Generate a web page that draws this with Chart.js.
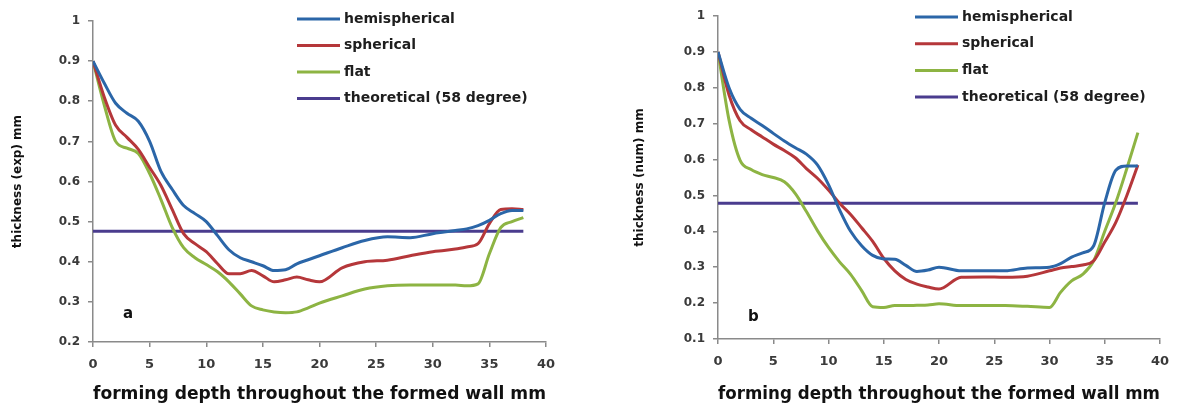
<!DOCTYPE html>
<html>
<head>
<meta charset="utf-8">
<script src="https://cdn.jsdelivr.net/npm/chart.js@4.4.1/dist/chart.umd.min.js"></script>
<style>
  html, body { margin: 0; padding: 0; background: #fff; }
  .panel { position: absolute; top: 0; height: 405px; }
  #wrapA { left: 0; width: 597px; }
  #wrapB { left: 620px; width: 574px; }
</style>
</head>
<body>
<div class="panel" id="wrapA"><canvas id="chartA"></canvas></div>
<div class="panel" id="wrapB"><canvas id="chartB"></canvas></div>
<script>
// series names
const seriesNames = ["hemispherical", "spherical", "flat", "theoretical (58 degree)"];

// forming depth (mm), shared by both panels
const depth = [0, 1, 2, 3, 4, 5, 6, 7, 8, 9, 10, 11, 12, 13, 14, 15, 16, 17, 18, 19, 20,
               22, 24, 26, 28, 30, 31, 32, 33, 34, 35, 36, 37, 38];

// panel a: experimental thickness (mm)
const hemiA = [0.9, 0.845, 0.795, 0.77, 0.75, 0.70, 0.625, 0.58, 0.54, 0.52, 0.50, 0.465, 0.43, 0.41, 0.40, 0.39, 0.378, 0.38, 0.395, 0.405, 0.415,
               0.435, 0.453, 0.462, 0.46, 0.47, 0.474, 0.478, 0.482, 0.49, 0.503, 0.52, 0.528, 0.528];
const sphA  = [0.9, 0.81, 0.74, 0.71, 0.68, 0.635, 0.59, 0.53, 0.47, 0.445, 0.425, 0.395, 0.37, 0.37, 0.378, 0.365, 0.35, 0.355, 0.362, 0.355, 0.35,
               0.385, 0.40, 0.404, 0.415, 0.425, 0.428, 0.432, 0.437, 0.445, 0.495, 0.53, 0.532, 0.53];
const flatA = [0.9, 0.79, 0.70, 0.683, 0.67, 0.62, 0.555, 0.485, 0.435, 0.41, 0.393, 0.375, 0.35, 0.32, 0.29, 0.28, 0.275, 0.273, 0.275, 0.285, 0.297,
               0.315, 0.332, 0.34, 0.342, 0.342, 0.342, 0.342, 0.34, 0.345, 0.42, 0.485, 0.50, 0.51];

// panel b: numerical thickness (mm)
const hemiB = [0.9, 0.80, 0.74, 0.715, 0.695, 0.673, 0.652, 0.633, 0.615, 0.585, 0.53, 0.46, 0.40, 0.36, 0.333, 0.323, 0.322, 0.305, 0.288, 0.292, 0.30,
               0.29, 0.29, 0.29, 0.298, 0.30, 0.31, 0.328, 0.34, 0.36, 0.48, 0.57, 0.582, 0.582];
const sphB  = [0.9, 0.78, 0.708, 0.683, 0.663, 0.643, 0.625, 0.605, 0.575, 0.548, 0.515, 0.478, 0.447, 0.41, 0.372, 0.325, 0.29, 0.266, 0.253, 0.245, 0.239,
               0.272, 0.273, 0.272, 0.275, 0.29, 0.298, 0.302, 0.306, 0.318, 0.37, 0.425, 0.50, 0.585];
const flatB = [0.9, 0.71, 0.598, 0.572, 0.558, 0.55, 0.538, 0.505, 0.455, 0.402, 0.355, 0.315, 0.28, 0.235, 0.19, 0.188, 0.193, 0.193, 0.194, 0.195, 0.198,
               0.193, 0.193, 0.193, 0.191, 0.188, 0.23, 0.262, 0.28, 0.318, 0.40, 0.48, 0.575, 0.675];

// theoretical line (58 degree)
const theoryDepth = [0, 38];
const theoryA = [0.476, 0.476];
const theoryB = [0.478, 0.478];

// tick labels
const xTicks = [0, 5, 10, 15, 20, 25, 30, 35, 40];
const yTicksA = [0.2, 0.3, 0.4, 0.5, 0.6, 0.7, 0.8, 0.9, 1];
const yTicksB = [0.1, 0.2, 0.3, 0.4, 0.5, 0.6, 0.7, 0.8, 0.9, 1];

const colors = ["#2b66a8", "#b5373a", "#8db443", "#4a3c8e"];
const FONT = '"DejaVu Sans", Verdana, sans-serif';
const AXIS = "#8a8a8a";

const pairs = (xs, ys) => xs.map((x, i) => ({ x: x, y: ys[i] }));

// draws the legend and the panel letter inside the plot
const overlayPlugin = {
  id: "overlay",
  afterDatasetsDraw(chart, args, opts) {
    const ctx = chart.ctx;
    ctx.save();
    ctx.font = "bold 14px " + FONT;
    ctx.textBaseline = "middle";
    ctx.textAlign = "left";
    chart.data.datasets.forEach((ds, i) => {
      const y = opts.legendY + i * opts.legendGap;
      ctx.strokeStyle = ds.borderColor;
      ctx.lineWidth = 3;
      ctx.beginPath();
      ctx.moveTo(opts.legendX, y);
      ctx.lineTo(opts.legendX + 43, y);
      ctx.stroke();
      ctx.fillStyle = "#1e1e1e";
      ctx.fillText(ds.label, opts.legendX + 47, y);
    });
    const sx = chart.scales.x, sy = chart.scales.y;
    ctx.font = "bold 15px " + FONT;
    ctx.textAlign = "center";
    ctx.fillStyle = "#111";
    ctx.fillText(opts.panel.text, sx.getPixelForValue(opts.panel.x), sy.getPixelForValue(opts.panel.y));
    ctx.restore();
  }
};

function makeChart(id, cfg) {
  const series = [cfg.hemi, cfg.sph, cfg.flat];
  const datasets = series.map((vals, i) => ({
    label: seriesNames[i],
    data: pairs(depth, vals),
    borderColor: colors[i],
    borderWidth: 3,
    pointRadius: 0,
    cubicInterpolationMode: "monotone",
    fill: false
  }));
  datasets.push({
    label: seriesNames[3],
    data: pairs(theoryDepth, cfg.theory),
    borderColor: colors[3],
    borderWidth: 3,
    pointRadius: 0,
    fill: false
  });

  return new Chart(document.getElementById(id), {
    type: "line",
    data: { datasets: datasets },
    options: {
      responsive: true,
      maintainAspectRatio: false,
      animation: false,
      layout: { padding: { top: cfg.padTop, right: cfg.padRight, left: 0, bottom: 0 } },
      plugins: {
        legend: { display: false },
        tooltip: { enabled: false },
        overlay: cfg.overlay
      },
      scales: {
        x: {
          type: "linear",
          min: 0,
          max: 40,
          afterBuildTicks: s => { s.ticks = xTicks.map(v => ({ value: v })); },
          afterFit: s => { s.height = cfg.xHeight; },
          ticks: { color: "#3a3a3a", padding: 10, font: { family: FONT, size: 13, weight: "bold" } },
          grid: { drawOnChartArea: false, drawTicks: true, tickLength: 5, color: AXIS, lineWidth: 1.5 },
          border: { display: true, color: AXIS, width: 1.5 },
          title: {
            display: true,
            text: "forming depth throughout the formed wall mm",
            color: "#111",
            padding: { top: 2, bottom: 0 },
            font: { family: FONT, size: 18, weight: "bold" }
          }
        },
        y: {
          type: "linear",
          min: cfg.yTicks[0],
          max: 1,
          afterBuildTicks: s => { s.ticks = cfg.yTicks.map(v => ({ value: v })); },
          afterFit: s => { s.width = cfg.yWidth; },
          ticks: {
            color: "#3a3a3a",
            padding: 8,
            font: { family: FONT, size: 12, weight: "bold" },
            callback: v => String(+v.toFixed(1))
          },
          grid: { drawOnChartArea: false, drawTicks: true, tickLength: 5, color: AXIS, lineWidth: 1.5 },
          border: { display: true, color: AXIS, width: 1.5 },
          title: {
            display: true,
            text: cfg.yTitle,
            color: "#111",
            padding: { top: cfg.yTitlePad, bottom: 0 },
            font: { family: FONT, size: 12, weight: "bold" }
          }
        }
      }
    },
    plugins: [overlayPlugin]
  });
}

makeChart("chartA", {
  hemi: hemiA, sph: sphA, flat: flatA, theory: theoryA,
  yTicks: yTicksA,
  yTitle: "thickness (exp) mm",
  padTop: 21, padRight: 51, xHeight: 63, yWidth: 93, yTitlePad: 11,
  overlay: { legendX: 297, legendY: 19, legendGap: 26.5, panel: { text: "a", x: 3.1, y: 0.27 } }
});

makeChart("chartB", {
  hemi: hemiB, sph: sphB, flat: flatB, theory: theoryB,
  yTicks: yTicksB,
  yTitle: "thickness (num) mm",
  padTop: 16, padRight: 34, xHeight: 66, yWidth: 98, yTitlePad: 13,
  overlay: { legendX: 295, legendY: 17, legendGap: 26.7, panel: { text: "b", x: 3.2, y: 0.16 } }
});
</script>
</body>
</html>
